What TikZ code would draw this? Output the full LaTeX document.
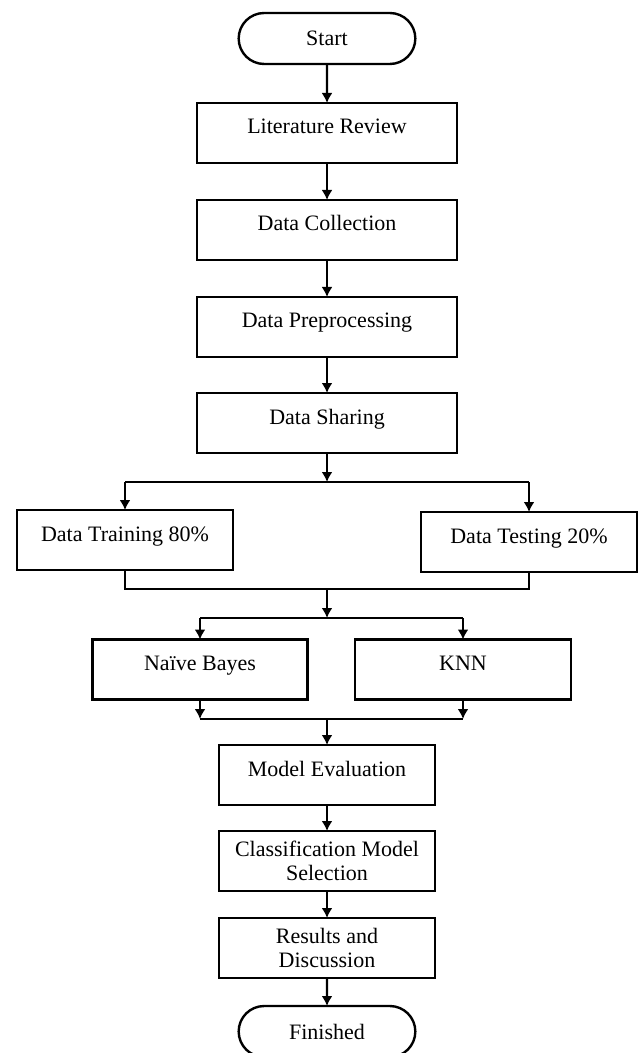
\documentclass[tikz,border=0pt]{standalone}
\usepackage{fontspec}
\setmainfont{Liberation Serif}
\usetikzlibrary{positioning, calc, arrows.meta, shapes.misc}

\begin{document}
\begin{tikzpicture}[x=1pt, y=1pt,
	font=\fontsize{11}{12}\selectfont,
	box/.style={draw, line width=1.2pt, outer sep=0pt, minimum width=130pt, minimum height=30pt, text height=8pt, text depth=7pt},
	box2/.style={draw, line width=1.2pt, outer sep=0pt, minimum width=108pt, minimum height=30pt, align=center},
	term/.style={draw, line width=1.2pt, outer sep=0pt, rounded rectangle, minimum width=95pt, minimum height=25.5pt},
	arr/.style={-{Latex[length=5pt, width=5.5pt]}, line width=1.1pt},
	line/.style={line width=1.1pt}]
	\useasboundingbox (0,0) rectangle (319.5,-526.5);
	
	\node[term] (start) at (163.5,-19.25) {Start};
	\node[box, below=19.5pt of start] (lit) {Literature Review};
	\node[box, below=18.5pt of lit] (coll) {Data Collection};
	\node[box, below=18.5pt of coll] (prep) {Data Preprocessing};
	\node[box, below=18pt of prep] (share) {Data Sharing};
	\coordinate[below=14.5pt of share] (j1);
	
	\node[box, minimum width=108pt] (train) at (62.5,-270) {Data Training 80\%};
	\node[box, minimum width=108pt] (test) at (264.5,-271) {Data Testing 20\%};
	
	\coordinate (j2) at ($(j1)+(0,-53.5)$);
	\coordinate (j3) at ($(j2)+(0,-14.5)$);
	
	\node[box, minimum width=107.5pt] (nb) at (100,-334.75) {Naïve Bayes};
	\node[box, minimum width=108pt] (knn) at (231.5,-334.75) {KNN};
	
	\coordinate (j4) at ($(j3)+(0,-50.5)$);
	
	\node[box, minimum width=108pt, below=13pt of j4] (eval) {Model Evaluation};
	\node[box2, below=13pt of eval] (sel) {Classification Model\\Selection};
	\node[box2, below=13.5pt of sel] (res) {Results and\\Discussion};
	\node[term, below=14pt of res] (fin) {Finished};
	
	\draw[arr] (start) -- (lit);
	\draw[arr] (lit) -- (coll);
	\draw[arr] (coll) -- (prep);
	\draw[arr] (prep) -- (share);
	\draw[arr] (share) -- (j1);
	\draw[line] (train.north |- j1) -- (test.north |- j1);
	\draw[arr] (train.north |- j1) -- (train.north);
	\draw[arr] (test.north |- j1) -- (test.north);
	\draw[line] (train.south) -- (train.south |- j2) -- (test.south |- j2) -- (test.south);
	\draw[arr] (j2) -- (j3);
	\draw[line] (nb.north |- j3) -- (knn.north |- j3);
	\draw[arr] (nb.north |- j3) -- (nb.north);
	\draw[arr] (knn.north |- j3) -- (knn.north);
	\draw[arr] (nb.south) -- (nb.south |- j4);
	\draw[arr] (knn.south) -- (knn.south |- j4);
	\draw[line] (nb.south |- j4) -- (knn.south |- j4);
	\draw[arr] (j4) -- (eval);
	\draw[arr] (eval) -- (sel);
	\draw[arr] (sel) -- (res);
	\draw[arr] (res) -- (fin);
\end{tikzpicture}
\end{document}
